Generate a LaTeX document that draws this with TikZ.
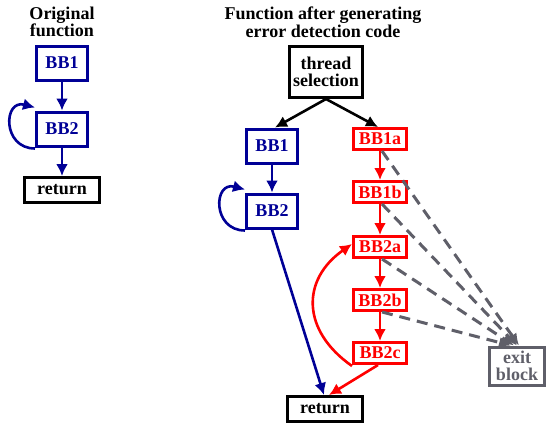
\documentclass[tikz,border=0pt]{standalone}
\usepackage{fontspec}
\setmainfont{Liberation Serif}
\usetikzlibrary{arrows.meta}
\definecolor{bbblue}{RGB}{0,0,150}
\definecolor{bbred}{RGB}{255,0,0}
\definecolor{bbgray}{RGB}{95,95,105}
\begin{document}
\begin{tikzpicture}[x=1pt,y=-1pt,
  every node/.style={font=\fontsize{18}{17.5}\selectfont\bfseries},
  box/.style={draw, line width=3pt, inner sep=1pt, align=center},
  bluebox/.style={box, draw=bbblue, text=bbblue, minimum width=51pt, minimum height=34pt},
  redbox/.style={box, draw=bbred, text=bbred, minimum width=53pt, minimum height=21pt},
  blackbox/.style={box, draw=black, text=black},
  ttl/.style={align=center, inner sep=0pt},
  arr/.style={line width=2.6pt, -{Latex[length=12pt,width=12pt]}},
  dsh/.style={line width=3pt, draw=bbgray, dash pattern=on 11pt off 7pt, -{Latex[length=12pt,width=11pt]}}
]
\useasboundingbox (0,0) rectangle (549,426);

% left: original function
\node[ttl] (t1) at (62,22) {Original\\function};
\node[bluebox] (a1) at (62,63) {BB1};
\node[bluebox] (a2) at (62,129) {BB2};
\node[blackbox, minimum width=75pt, minimum height=25pt] (ar) at (62,190) {return};
\draw[arr, bbblue] (a1) -- (a2);
\draw[arr, bbblue] (a2) -- (ar);
\draw[arr, bbblue] ([yshift=-1pt]a2.south west) to[out=180,in=165,distance=33pt] ([yshift=3pt]a2.north west);

% right: after generating error detection code
\node[ttl] (t2) at (323,22) {Function after generating\\error detection code};
\node[blackbox, minimum width=73pt, minimum height=51pt] (ts) at (326,72) {thread\\selection};
\node[bluebox] (b1) at (272,146) {BB1};
\node[bluebox] (b2) at (272,211) {BB2};
\node[redbox] (r1a) at (380,139) {BB1a};
\node[redbox] (r1b) at (380,192) {BB1b};
\node[redbox] (r2a) at (380,247) {BB2a};
\node[redbox] (r2b) at (380,300) {BB2b};
\node[redbox] (r2c) at (380,353) {BB2c};
\node[blackbox, minimum width=75pt, minimum height=25pt] (br) at (325,409) {return};
\node[box, draw=bbgray, text=bbgray, minimum width=55pt, minimum height=38pt, inner sep=0pt] (ex) at (517,366) {exit\\block};

\draw[arr, black] (ts.south) -- ([xshift=3pt]b1.north);
\draw[arr, black] (ts.south) -- ([xshift=-2pt]r1a.north);
\draw[arr, bbblue] (b1) -- (b2);
\draw[arr, bbblue] ([yshift=-1pt]b2.south west) to[out=180,in=165,distance=33pt] ([yshift=3pt]b2.north west);
\draw[arr, bbblue] (b2.south) -- ([xshift=-1pt]br.north);
\draw[arr, bbred] (r1a) -- (r1b);
\draw[arr, bbred] (r1b) -- (r2a);
\draw[arr, bbred] (r2a) -- (r2b);
\draw[arr, bbred] (r2b) -- (r2c);
\draw[arr, bbred] ([yshift=-1pt]r2c.south west) to[out=145,in=215,distance=62pt] ([yshift=3pt]r2a.west);
\draw[arr, bbred] ([xshift=-2pt]r2c.south) -- ([xshift=4pt]br.north);

\draw[dsh] ([xshift=2pt]r1a.south) -- ([xshift=2pt]ex.north);
\draw[dsh] ([xshift=2pt]r1b.south) -- ([xshift=0pt]ex.north);
\draw[dsh] ([xshift=2pt]r2a.south) -- ([xshift=-3pt]ex.north);
\draw[dsh] ([xshift=2pt]r2b.south) -- ([xshift=-6pt]ex.north);
\end{tikzpicture}
\end{document}
